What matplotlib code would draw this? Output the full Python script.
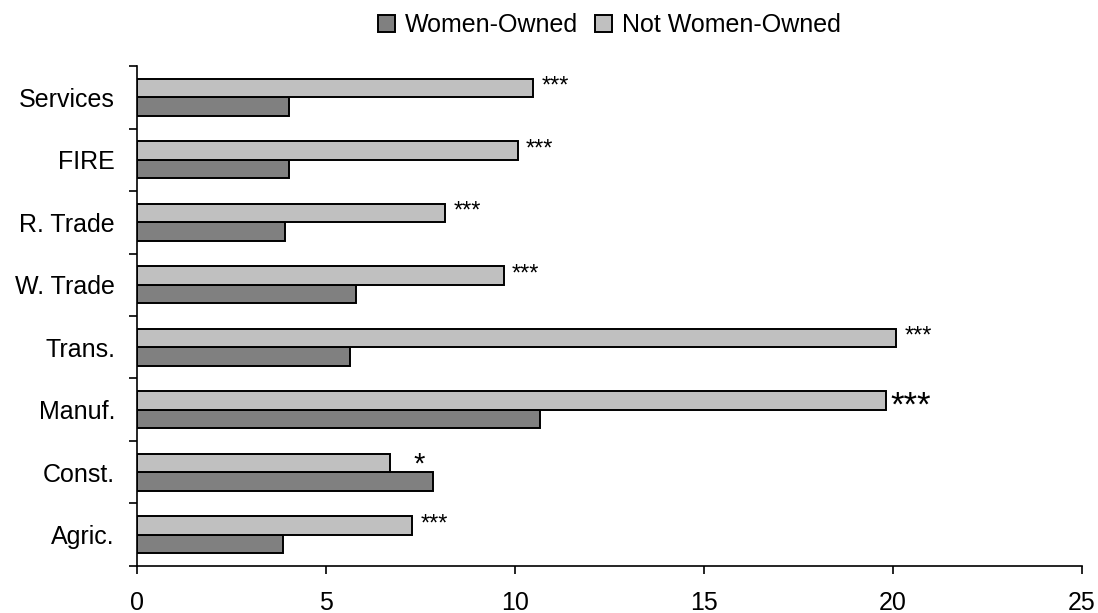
import matplotlib.pyplot as plt
import numpy as np

plt.rcParams["font.family"] = ["Liberation Sans", "DejaVu Sans"]

categories = ["Agric.", "Const.", "Manuf.", "Trans.", "W. Trade", "R. Trade", "FIRE", "Services"]
women_owned = [3.87, 7.84, 10.65, 5.62, 5.78, 3.92, 4.03, 4.03]
not_women_owned = [7.27, 6.68, 19.82, 20.09, 9.70, 8.16, 10.07, 10.49]
significance = ["***", "*", "***", "***", "***", "***", "***", "***"]

y = np.arange(len(categories))
h = 0.293

fig = plt.figure(figsize=(10.98, 6.13), dpi=100)
ax = fig.add_axes([0.125, 0.0767, 0.86, 0.8156])

ax.barh(y - h / 2, women_owned, height=h, color="#808080", edgecolor="black",
        linewidth=1.4, label="Women-Owned")
ax.barh(y + h / 2, not_women_owned, height=h, color="#c0c0c0", edgecolor="black",
        linewidth=1.4, label="Not Women-Owned")

# significance stars next to the light bars
for i, (v, s) in enumerate(zip(not_women_owned, significance)):
    size, dx, dy = 17, 6, 1
    if categories[i] == "Manuf.":
        size, dx, dy = 25, 3, -4
    elif categories[i] == "Const.":
        size, dx, dy = 21, 17, -1
    ax.annotate(s, (v, y[i] + h / 2), xytext=(dx, dy), textcoords="offset points",
                ha="left", va="center", fontsize=size)

ax.set_xlim(0, 25)
ax.set_ylim(-0.5, len(categories) - 0.5)
ax.set_xticks(np.arange(0, 26, 5))
ax.tick_params(axis="x", length=6, width=1.2, labelsize=18, pad=12)

# category boundaries get the ticks, centres get the labels
ax.set_yticks(np.arange(-0.5, len(categories), 1))
ax.set_yticklabels([])
ax.set_yticks(y, minor=True)
ax.set_yticklabels(categories, minor=True)
ax.tick_params(axis="y", which="major", length=6, width=1.2)
ax.tick_params(axis="y", which="minor", length=0, labelsize=18, pad=16)

for side in ["top", "right"]:
    ax.spines[side].set_visible(False)
for side in ["left", "bottom"]:
    ax.spines[side].set_linewidth(1.2)

fig.legend(loc="center", bbox_to_anchor=(0.555, 0.959), ncol=2, frameon=False,
           fontsize=18, handlelength=0.65, handleheight=0.65, handletextpad=0.4,
           columnspacing=0.7)

fig.savefig("out.png", dpi=100)
